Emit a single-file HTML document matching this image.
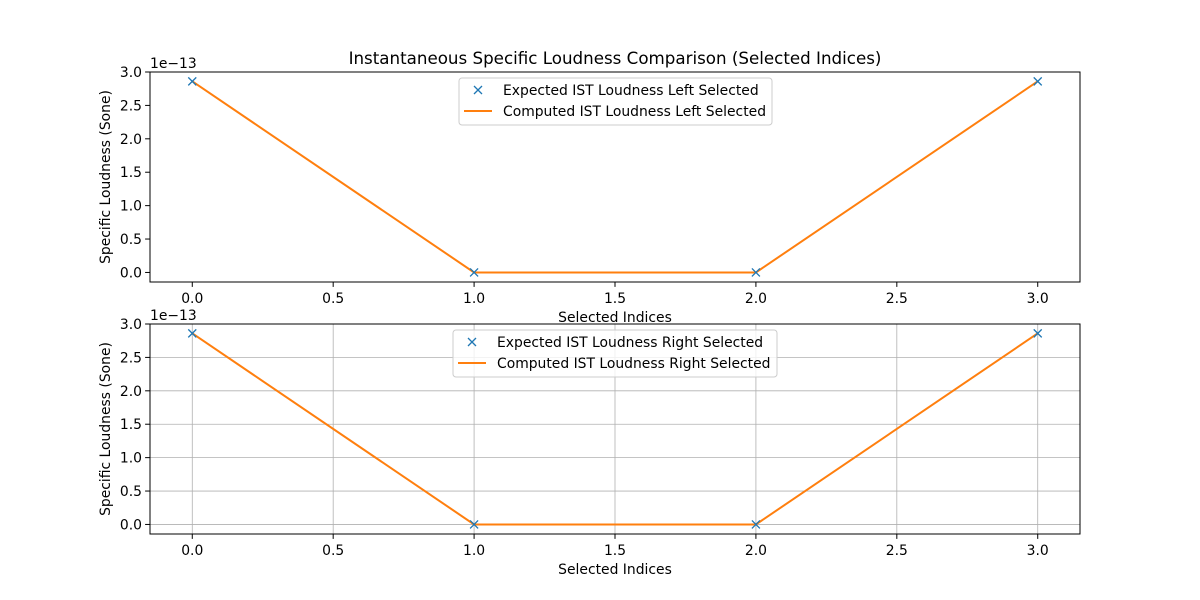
<!DOCTYPE html>
<html><head><meta charset="utf-8"><style>
body{margin:0;background:#fff}
svg{display:block;font-family:"DejaVu Sans","Liberation Sans",sans-serif}
</style></head><body>
<svg id="fig" width="1200" height="600" viewBox="0 0 1200 600"></svg>
<script>
const xValues = [0, 1, 2, 3];
const expectedLeft = [2.86, 0, 0, 2.86];
const computedLeft = [2.86, 0, 0, 2.86];
const expectedRight = [2.86, 0, 0, 2.86];
const computedRight = [2.86, 0, 0, 2.86];
const xTicks = [0, 0.5, 1, 1.5, 2, 2.5, 3];
const yTicks = [0, 0.5, 1, 1.5, 2, 2.5, 3];

const NS = "http://www.w3.org/2000/svg";
const svg = document.getElementById('fig');
const FS = 13.9;
function mk(tag, attrs, parent, text) {
  const e = document.createElementNS(NS, tag);
  for (const k in attrs) e.setAttribute(k, attrs[k]);
  if (text !== undefined) e.textContent = text;
  (parent || svg).appendChild(e);
  return e;
}
const t = mk('text', {x: 615, y: 64, 'text-anchor': 'middle', 'font-size': 16.7});
t.textContent = 'Instantaneous Specific Loudness Comparison (Selected Indices)';



function panel(top, exp, comp, grid, side, legX, legW) {
  const L = 150, R = 1080, T = top, B = top + 210;
  const x0 = -0.15, x1 = 3.15, y0 = -0.143, y1 = 3.0;
  const sx = v => L + (v - x0) / (x1 - x0) * (R - L);
  const sy = v => B - (v - y0) / (y1 - y0) * (B - T);
  const g = mk('g', {});
  
  
  if (grid) {
    xTicks.forEach(v => { const l = mk('line', {x1: sx(v), x2: sx(v), y1: T, y2: B, stroke: '#b0b0b0', 'stroke-width': 0.8}, g);
        });
    yTicks.forEach(v => { const l = mk('line', {x1: L, x2: R, y1: sy(v), y2: sy(v), stroke: '#b0b0b0', 'stroke-width': 0.8}, g);
        });
  }
  xTicks.forEach(v => {
    mk('line', {x1: sx(v), x2: sx(v), y1: B, y2: B + 4.9, stroke: '#000'}, g);
    const tx = mk('text', {x: sx(v), y: B + 21, 'text-anchor': 'middle', 'font-size': FS}, g, v.toFixed(1));
     
  });
  yTicks.forEach(v => {
    mk('line', {x1: L - 4.9, x2: L, y1: sy(v), y2: sy(v), stroke: '#000'}, g);
    const tx = mk('text', {x: L - 8, y: sy(v) + 5, 'text-anchor': 'end', 'font-size': FS}, g, v.toFixed(1));
     
  });
  const off = mk('text', {x: L, y: T - 4, 'font-size': FS}, g, '1e\u221213');
   
  const xl = mk('text', {x: 615, y: B + 40, 'text-anchor': 'middle', 'font-size': FS}, g, 'Selected Indices');
   
  const yl = mk('text', {x: 0, y: 0, 'text-anchor': 'middle', 'font-size': FS, transform: `translate(110,${(T + B) / 2}) rotate(-90)`}, g, 'Specific Loudness (Sone)');
   
  const pts = comp.map((v, i) => sx(xValues[i]) + ',' + sy(v)).join(' ');
  const line = mk('polyline', {points: pts, fill: 'none', stroke: '#ff7f0e', 'stroke-width': 2}, g);
   
  exp.forEach((v, i) => {
    const cx = sx(xValues[i]), cy = sy(v), d = 4;
    const m = mk('path', {d: `M${cx - d},${cy - d}L${cx + d},${cy + d}M${cx - d},${cy + d}L${cx + d},${cy - d}`, stroke: '#1f77b4', 'stroke-width': 1.3}, g);
     
  });
  const fr = mk('rect', {x: L, y: T, width: R - L, height: B - T, fill: 'none', stroke: '#000', 'stroke-width': 1}, g);
   
  const lg = mk('g', {}, g);
   
  mk('rect', {x: legX, y: T + 6, width: legW, height: 47, rx: 3, fill: '#fff', 'fill-opacity': 0.8, stroke: '#ccc'}, lg);
  const mx = legX + 19, my = T + 18;
  mk('path', {d: `M${mx - 4},${my - 4}L${mx + 4},${my + 4}M${mx - 4},${my + 4}L${mx + 4},${my - 4}`, stroke: '#1f77b4', 'stroke-width': 1.3}, lg);
  const n = side === 'left' ? 'Left' : 'Right';
  const e1 = mk('text', {x: legX + 44, y: my + 5, 'font-size': FS}, lg, `Expected IST Loudness ${n} Selected`);
   
  mk('line', {x1: legX + 5, x2: legX + 33, y1: T + 39, y2: T + 39, stroke: '#ff7f0e', 'stroke-width': 2}, lg);
  const e2 = mk('text', {x: legX + 44, y: T + 44, 'font-size': FS}, lg, `Computed IST Loudness ${n} Selected`);
   
}
panel(72, expectedLeft, computedLeft, false, 'left', 459, 313);
panel(324, expectedRight, computedRight, true, 'right', 453, 324);
</script>
</body></html>
